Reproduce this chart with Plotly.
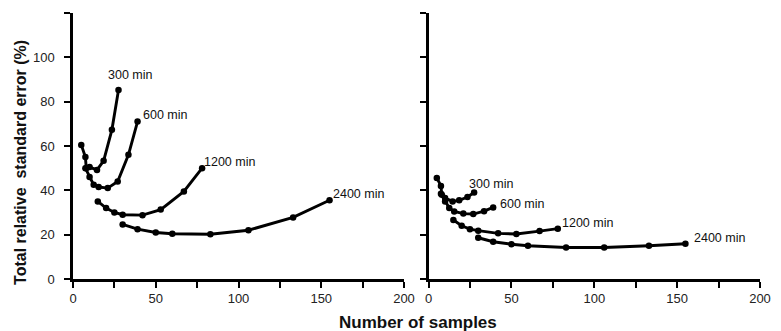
import plotly.graph_objects as go

# ---- data ----
x300 = [5, 7.5, 8, 10, 14.5, 18.5, 23.5, 27.5]
x600 = [7.5, 10, 12.5, 15.5, 21, 27, 33.5, 39]
x1200 = [15, 20, 25, 30, 42, 53, 67, 78]
x2400 = [30, 39, 50, 60, 83, 106, 133, 155]

left300 = [60.5, 55, 50, 50.5, 49.2, 53.3, 67.3, 85.3]
left600 = [50, 46, 42.5, 41.5, 41, 44, 56, 71]
left1200 = [35, 32, 30, 29, 28.8, 31.3, 39.5, 50]
left2400 = [24.6, 22.5, 21, 20.4, 20.2, 22, 27.8, 35.5]

right300 = [45.6, 42, 38, 36.5, 35, 35.5, 37, 39]
right600 = [38.5, 35, 32, 30.5, 29.5, 29.3, 30.6, 32.3]
right1200 = [26.6, 24, 22.5, 21.8, 20.6, 20.3, 21.6, 22.7]
right2400 = [18.6, 16.8, 15.7, 15.0, 14.2, 14.2, 15.0, 15.9]

labels = ["300 min", "600 min", "1200 min", "2400 min"]
xtick_vals = [0, 25, 50, 75, 100, 125, 150, 175, 200]
xtick_text = ["0", "", "50", "", "100", "", "150", "", "200"]
ytick_vals = [0, 20, 40, 60, 80, 100, 120]
ytick_text = ["0", "20", "40", "60", "80", "100", ""]

FONT = "Liberation Sans, Arial, sans-serif"

fig = go.Figure()
xs = [x300, x600, x1200, x2400]
left = [left300, left600, left1200, left2400]
right = [right300, right600, right1200, right2400]

for xv, yv in zip(xs, left):
    fig.add_trace(go.Scatter(x=xv, y=yv, mode="lines+markers", xaxis="x", yaxis="y",
                             line=dict(color="black", width=2.9),
                             marker=dict(color="black", size=6.5), showlegend=False))
for xv, yv in zip(xs, right):
    fig.add_trace(go.Scatter(x=xv, y=yv, mode="lines+markers", xaxis="x2", yaxis="y2",
                             line=dict(color="black", width=2.9),
                             marker=dict(color="black", size=6.5), showlegend=False))

left_shift = [(-13, 15), (3, 7), (0, 6), (1, 6)]
right_shift = [(-7, 9), (5, 3), (2, 6), (7, 6)]
annotations = []
for lab, xv, yv, (dx, dy) in zip(labels, xs, left, left_shift):
    annotations.append(dict(x=xv[-1], y=yv[-1], xref="x", yref="y", text=lab,
                            showarrow=False, xanchor="left", yanchor="middle",
                            xshift=dx, yshift=dy, font=dict(size=12.5, color="#111", family=FONT)))
for lab, xv, yv, (dx, dy) in zip(labels, xs, right, right_shift):
    annotations.append(dict(x=xv[-1], y=yv[-1], xref="x2", yref="y2", text=lab,
                            showarrow=False, xanchor="left", yanchor="middle",
                            xshift=dx, yshift=dy, font=dict(size=12.5, color="#111", family=FONT)))

annotations.append(dict(x=0.502, y=-0.165, xref="paper", yref="paper", xanchor="center",
                        yanchor="middle", showarrow=False, text="<b>Number of samples</b>",
                        font=dict(size=17, color="#111", family=FONT)))
annotations.append(dict(x=-0.0757, y=0.44, xref="paper", yref="paper", xanchor="center",
                        yanchor="middle", showarrow=False, textangle=-90,
                        text="<b>Total relative\u00a0 standard error (%)</b>",
                        font=dict(size=16, color="#111", family=FONT)))

axis_common = dict(showline=True, linecolor="black", linewidth=2.5, ticks="outside",
                   ticklen=6, tickwidth=2, tickcolor="black", showgrid=False, zeroline=False,
                   tickfont=dict(size=13, color="#222", family=FONT))

fig.update_layout(
    width=781, height=331,
    margin=dict(l=65, r=29, t=5, b=60),
    paper_bgcolor="white", plot_bgcolor="white",
    font=dict(family=FONT),
    xaxis=dict(domain=[0, 0.4818], range=[0, 200], tickvals=xtick_vals, ticktext=xtick_text,
               anchor="y", **axis_common),
    xaxis2=dict(domain=[0.5175, 1], range=[0, 200], tickvals=xtick_vals, ticktext=xtick_text,
                anchor="y2", **axis_common),
    yaxis=dict(domain=[0, 1], range=[0, 120], tickvals=ytick_vals, ticktext=ytick_text,
               anchor="x", ticklabelstandoff=7, **axis_common),
    yaxis2=dict(domain=[0, 1], range=[0, 120], tickvals=ytick_vals, showticklabels=False,
                anchor="x2", **axis_common),
    annotations=annotations,
)

fig.write_html("out.html")
